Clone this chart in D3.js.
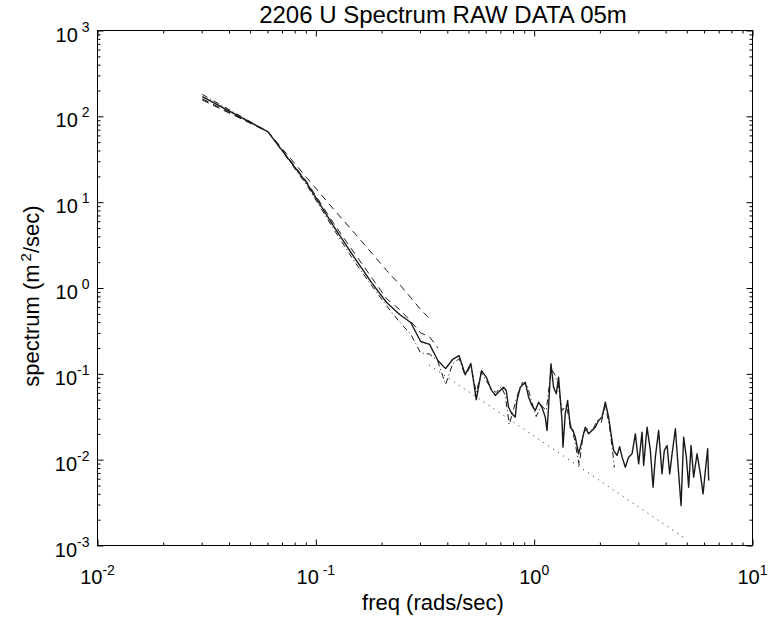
<!DOCTYPE html>
<html lang="en">
<head>
<meta charset="UTF-8">
<title>2206 U Spectrum RAW DATA 05m</title>
<script src="https://d3js.org/d3.v7.min.js"></script>
<style>
  body { margin: 0; background: #fff; }
  text { font-family: "Liberation Sans", Arial, sans-serif; fill: #000; }
  .title { font-size: 24px; text-anchor: middle; }
  .axis-label { font-size: 22px; text-anchor: middle; }
  .tick-label { font-size: 20px; }
  .axis path { display: none; }
  .axis line { stroke: #000; stroke-width: 1; }
  .frame { fill: none; stroke: #000; stroke-width: 1; }
  .series { fill: none; stroke: #1a1a1a; stroke-linejoin: round; }
</style>
</head>
<body>
<div id="chart"></div>
<script>
// axis decades and tick labels (base + superscript, as printed)
const xDecades = [0.01, 0.1, 1, 10];
const xTickExp = ["-2", " -1", "0", "1"];
const yDecades = [1000, 100, 10, 1, 0.1, 0.01, 0.001];
const yTickExp = [" 3", " 2", " 1", " 0", "-1", "-2", "-3"];

// solid spectrum
const solidFreq = [0.0302, 0.0604, 0.0906, 0.121, 0.151, 0.181, 0.211, 0.242, 0.272, 0.302,
  0.332, 0.362, 0.393, 0.423, 0.453, 0.483, 0.513, 0.543, 0.574, 0.604, 0.634, 0.664,
  0.699, 0.724, 0.745, 0.763, 0.791, 0.819, 0.834, 0.864, 0.910, 0.943, 0.977, 1.012,
  1.048, 1.086, 1.124, 1.145, 1.164, 1.194, 1.227, 1.263, 1.294, 1.341, 1.355, 1.388,
  1.423, 1.464, 1.506, 1.543, 1.598, 1.656, 1.714, 1.776, 1.840, 1.905, 1.973, 2.045,
  2.118, 2.193, 2.273, 2.311, 2.396, 2.463, 2.528, 2.616, 2.708, 2.807, 2.907, 3.010,
  3.120, 3.173, 3.289, 3.405, 3.504, 3.589, 3.716, 3.851, 3.946, 4.062, 4.175, 4.282,
  4.434, 4.542, 4.708, 4.838, 4.978, 5.101, 5.231, 5.376, 5.572, 5.771, 5.938, 6.083,
  6.232, 6.299];
const solidSpec = [170, 66, 16.9, 5.2, 2.21, 1.13, 0.678, 0.491, 0.396, 0.238,
  0.220, 0.143, 0.115, 0.147, 0.163, 0.098, 0.132, 0.050, 0.109, 0.091, 0.066, 0.056,
  0.0639, 0.0698, 0.0639, 0.0408, 0.0342, 0.0313, 0.0489, 0.0698, 0.0798, 0.0534, 0.0428, 0.0374,
  0.0467, 0.0408, 0.0313, 0.0219, 0.0408, 0.131, 0.0698, 0.0585, 0.0914, 0.0286, 0.0140, 0.0342,
  0.0489, 0.0239, 0.0219, 0.0183, 0.0117, 0.0167, 0.0239, 0.0200, 0.0219, 0.0239, 0.0286, 0.0313,
  0.0467, 0.0313, 0.0167, 0.0128, 0.0112, 0.0142, 0.0107, 0.00817, 0.0107, 0.0117, 0.0200, 0.00893,
  0.0209, 0.00855, 0.0239, 0.0128, 0.00478, 0.0107, 0.0219, 0.00684, 0.0128, 0.0146, 0.00684, 0.0117,
  0.0229, 0.00978, 0.00292, 0.0183, 0.0107, 0.00478, 0.0146, 0.00624, 0.0117, 0.00684, 0.00400, 0.00748,
  0.0134, 0.00572];

// dash-dot spectrum
const dashDotFreq = [0.0302, 0.0604, 0.0906, 0.121, 0.151, 0.181, 0.211, 0.242, 0.272, 0.302,
  0.332, 0.362, 0.393, 0.423, 0.453, 0.483, 0.513, 0.543, 0.572, 0.603, 0.636, 0.670,
  0.707, 0.737, 0.769, 0.802, 0.846, 0.882, 0.930, 0.970, 1.022, 1.078, 1.136, 1.198,
  1.249, 1.289, 1.345, 1.403, 1.464, 1.527, 1.609, 1.679, 1.770, 1.846, 1.946, 2.030,
  2.118, 2.209, 2.280, 2.329];
const dashDotSpec = [180, 66, 16, 4.8, 2.0, 1.05, 0.62, 0.40, 0.29, 0.175,
  0.17, 0.14, 0.075, 0.13, 0.15, 0.095, 0.125, 0.0606, 0.1036, 0.0836, 0.0674, 0.0606,
  0.0711, 0.0559, 0.0257, 0.0374, 0.0606, 0.0792, 0.0731, 0.0489, 0.0318, 0.0428, 0.0374, 0.1153,
  0.0956, 0.0731, 0.0374, 0.0428, 0.0264, 0.0176, 0.00855, 0.0207, 0.0231, 0.0219, 0.0286, 0.0271,
  0.0428, 0.0250, 0.0135, 0.0081];

// upper dashed curve
const dashUpFreq = [0.0302, 0.0604, 0.0906, 0.121, 0.151, 0.181, 0.211, 0.242, 0.272, 0.302, 0.332];
const dashUpSpec = [160, 66, 19.4, 8.2, 4.31, 2.52, 1.60, 1.10, 0.775, 0.561, 0.441];

// lower dashed curve
const dashLowFreq = [0.0302, 0.0604, 0.0906, 0.121, 0.151, 0.181, 0.211, 0.242, 0.272, 0.302, 0.332, 0.362];
const dashLowSpec = [155, 66, 17.5, 5.6, 2.5, 1.3, 0.75, 0.56, 0.41, 0.30, 0.27, 0.20];

// dotted reference slope
const refFreq = [0.33, 4.93];
const refSpec = [0.127, 0.0012];

const margin = { top: 30, right: 21, bottom: 74, left: 97 },
      width = 773 - margin.left - margin.right,
      height = 619 - margin.top - margin.bottom;

const svg = d3.select("#chart")
  .append("svg")
  .attr("width", 773)
  .attr("height", 619)
  .append("g")
  .attr("transform", `translate(${margin.left + 0.5},${margin.top + 0.5})`);

const x = d3.scaleLog().domain([0.01, 10]).range([0, width]);
const y = d3.scaleLog().domain([0.001, 1000]).range([height, 0]);

// minor ticks are the 2..9 multiples inside each decade
const isMajor = v => Math.abs(Math.log10(v) - Math.round(Math.log10(v))) < 1e-9;
const xMinor = x.ticks().filter(v => !isMajor(v));
const yMinor = y.ticks().filter(v => !isMajor(v));

function tickAxis(axisFn, scale, values, size, transform) {
  svg.append("g")
    .attr("class", "axis")
    .attr("transform", transform || null)
    .call(axisFn(scale).tickValues(values).tickSize(size).tickSizeOuter(0).tickFormat(""));
}

// ticks point inward on all four sides
tickAxis(d3.axisBottom, x, xDecades, -6, `translate(0,${height})`);
tickAxis(d3.axisBottom, x, xMinor, -3, `translate(0,${height})`);
tickAxis(d3.axisTop, x, xDecades, -6);
tickAxis(d3.axisTop, x, xMinor, -3);
tickAxis(d3.axisLeft, y, yDecades, -6);
tickAxis(d3.axisLeft, y, yMinor, -3);
tickAxis(d3.axisRight, y, yDecades, -6, `translate(${width},0)`);
tickAxis(d3.axisRight, y, yMinor, -3, `translate(${width},0)`);

svg.append("rect")
  .attr("class", "frame")
  .attr("width", width)
  .attr("height", height);

// tick labels: "10" with superscript exponent
const xl = svg.selectAll(".xlab")
  .data(xDecades)
  .enter()
  .append("text")
  .attr("class", "tick-label")
  .attr("text-anchor", "middle")
  .attr("x", d => x(d))
  .attr("y", height + 38);
xl.append("tspan").text("10");
xl.append("tspan").attr("font-size", 14).attr("dy", -9).text((d, i) => xTickExp[i]);

const yl = svg.selectAll(".ylab")
  .data(yDecades)
  .enter()
  .append("text")
  .attr("class", "tick-label")
  .attr("text-anchor", "end")
  .attr("x", -8)
  .attr("y", d => y(d) + 11);
yl.append("tspan").text("10");
yl.append("tspan").attr("font-size", 14).attr("dy", -10).text((d, i) => yTickExp[i]);

// titles (printed slightly right of the axes centre)
svg.append("text")
  .attr("class", "title")
  .attr("x", width / 2 + 18)
  .attr("y", -8)
  .text("2206 U Spectrum RAW DATA 05m");

svg.append("text")
  .attr("class", "axis-label")
  .attr("x", width / 2 + 8)
  .attr("y", height + 64)
  .text("freq (rads/sec)");

const ylab = svg.append("text")
  .attr("class", "axis-label")
  .attr("transform", "rotate(-90)")
  .attr("x", -height / 2 - 8)
  .attr("y", -59);
ylab.append("tspan").text("spectrum (m");
ylab.append("tspan").attr("font-size", 15).attr("dx", 3).attr("dy", -8).text("2");
ylab.append("tspan").attr("dy", 8).text("/sec)");

// series
const line = d3.line().x(d => x(d[0])).y(d => y(d[1]));
const zip = (f, s) => f.map((v, i) => [v, s[i]]);

svg.append("path").datum(zip(refFreq, refSpec))
  .attr("class", "series").attr("stroke-width", 1).attr("stroke-dasharray", "1,5")
  .attr("d", line);
svg.append("path").datum(zip(dashUpFreq, dashUpSpec))
  .attr("class", "series").attr("stroke-width", 1).attr("stroke-dasharray", "7,5")
  .attr("d", line);
svg.append("path").datum(zip(dashLowFreq, dashLowSpec))
  .attr("class", "series").attr("stroke-width", 1).attr("stroke-dasharray", "7,5")
  .attr("d", line);
svg.append("path").datum(zip(dashDotFreq, dashDotSpec))
  .attr("class", "series").attr("stroke-width", 1).attr("stroke-dasharray", "6,3,1,3")
  .attr("d", line);
svg.append("path").datum(zip(solidFreq, solidSpec))
  .attr("class", "series").attr("stroke-width", 1.4)
  .attr("d", line);
</script>
</body>
</html>
